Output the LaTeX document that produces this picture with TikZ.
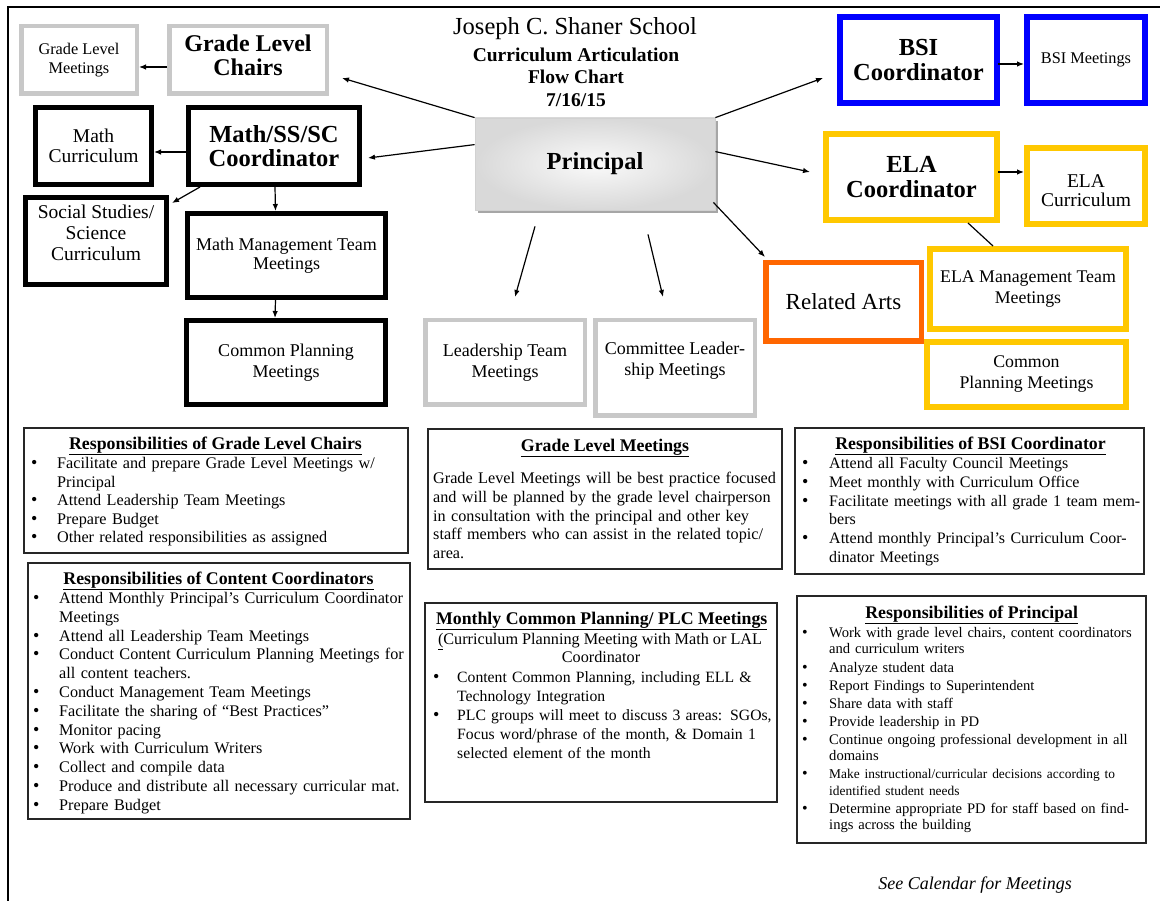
\documentclass[tikz,border=0pt]{standalone}
\usepackage{fontspec}
\setmainfont{Liberation Serif}
\usetikzlibrary{arrows.meta,shadows}
\definecolor{boxgray}{HTML}{C8C8C8}
\definecolor{bsiblue}{HTML}{0000FF}
\definecolor{elayel}{HTML}{FFC800}
\definecolor{raor}{HTML}{FF6600}
\newcommand\pal{\rmfamily}
\newcommand\tms{\rmfamily}
\newcommand\fsz[2]{\fontsize{#1}{#2}\selectfont}
\newcommand\bsz{\fsz{18}{0}}
\newcommand\bl[1]{\makebox[#1pt][l]{{\bsz\textbullet}}}
\newcommand\cl[1]{\hspace*{#1pt}}
\begin{document}
\begin{tikzpicture}[x=1pt,y=-1pt,
  box/.style={rectangle, draw, align=center, inner sep=0pt, font=\pal},
  gbox/.style={box, draw=boxgray, line width=4.5pt},
  kbox/.style={box, draw=black, line width=5pt},
  bbox/.style={box, draw=bsiblue, line width=6pt},
  ybox/.style={box, draw=elayel, line width=6pt},
  obox/.style={box, draw=raor, line width=5.5pt},
  lbl/.style={inner sep=0pt, align=center, font=\pal},
  principal/.style={rectangle, draw=black!18, line width=0.8pt, inner color=black!2, outer color=black!15,
     font=\pal\bfseries\fsz{24.5}{28}, drop shadow={shadow xshift=3pt, shadow yshift=-3pt, fill=black!35, opacity=1}},
  arr/.style={line width=1.2pt, -{Latex[length=7pt,width=5.5pt]}},
  plain/.style={line width=1.2pt},
  resp/.style={rectangle, draw=black!85, line width=1.6pt, inner sep=0pt},
  txt/.style={inner sep=0pt, align=left, anchor=base west, text width=#1},
  ttl/.style={inner sep=0pt, anchor=base, font=\tms\bfseries\fsz{17.8}{20}},
]
\useasboundingbox (0,0) rectangle (1160,901);
\fill[white] (0,0) rectangle (1160,901);
\draw[line width=2.5pt] (8,901) -- (8,7) -- (1160,7);

% title
\node[inner sep=0pt, font=\pal\fsz{24.5}{26}] (title1) at (575,29) {Joseph C. Shaner School};
\node[inner sep=0pt, font=\pal\bfseries\fsz{19.5}{22}] (title2) at (576,55) {Curriculum Articulation};
\node[inner sep=0pt, font=\pal\bfseries\fsz{19.5}{22}] (title3) at (576,77) {Flow Chart};
\node[inner sep=0pt, font=\pal\bfseries\fsz{19.5}{22}] (title4) at (576,100) {7/16/15};

% upper boxes
\node[gbox, minimum width=115.5pt, minimum height=67.5pt, font=\pal\fsz{16.3}{19}] (glm) at (79,60) {Grade Level\\Meetings};
\node[gbox, minimum width=157.5pt, minimum height=67.5pt] (glc) at (248,60) {};
\node[lbl, font=\pal\bfseries\fsz{24}{24}] (glct) at (248,55) {Grade Level\\Chairs};
\node[kbox, minimum width=116pt, minimum height=77pt, font=\pal\fsz{19.5}{20}] (mathc) at (93.5,146) {Math\\Curriculum};
\node[kbox, minimum width=171pt, minimum height=77pt, font=\pal\bfseries\fsz{24.5}{24}] (coord) at (274,146) {Math/SS/SC\\Coordinator};
\node[kbox, minimum width=141pt, minimum height=87pt] (socs) at (96,241) {};
\node[lbl, font=\pal\fsz{19.5}{21}] (socst) at (96,233) {Social Studies/\\Science\\Curriculum};
\node[kbox, minimum width=198pt, minimum height=84pt, font=\pal\fsz{18}{19.5}] (mmt) at (286.5,255.5) {Math Management Team\\Meetings};
\node[kbox, minimum width=199pt, minimum height=84pt, font=\pal\fsz{18}{21}] (cpl) at (286,362.5) {Common Planning\\Meetings};

\node[principal, minimum width=240pt, minimum height=92pt] (principal) at (595,164) {Principal};

\node[gbox, minimum width=159.5pt, minimum height=84.5pt, font=\pal\fsz{18}{21}] (ltm) at (505,362.5) {Leadership Team\\Meetings};
\node[gbox, minimum width=159.5pt, minimum height=95.5pt] (clm) at (675,368) {};
\node[lbl, font=\pal\fsz{18}{21}] (clmt) at (675,360.5) {Committee Leader-\\ship Meetings};
\node[obox, minimum width=155.5pt, minimum height=78.5pt, font=\pal\fsz{23}{24}] (ra) at (843.5,302) {Related Arts};

\node[bbox, minimum width=157pt, minimum height=86pt, font=\pal\bfseries\fsz{24.5}{25}] (bsic) at (918.5,60) {BSI\\Coordinator};
\node[bbox, minimum width=118pt, minimum height=86pt, font=\pal\fsz{16.3}{18}] (bsim) at (1086,60) {BSI Meetings};
\node[ybox, minimum width=171pt, minimum height=86pt, font=\pal\bfseries\fsz{24.5}{25}] (elac) at (911.5,177) {ELA\\Coordinator};
\node[ybox, minimum width=118pt, minimum height=76pt] (elacur) at (1086,186) {};
\node[lbl, font=\pal\fsz{19.5}{19}] (elacurt) at (1086,190.5) {ELA\\Curriculum};
\node[ybox, minimum width=196pt, minimum height=80pt, font=\pal\fsz{17.8}{21}] (elamt) at (1028,289) {ELA Management Team\\Meetings};
\node[ybox, minimum width=199pt, minimum height=65pt, font=\pal\fsz{17.8}{21}] (cpr) at (1026.5,374.5) {Common\\Planning Meetings};

% connectors
\draw[arr] ([shift={(0,7)}]glc.west) -- ([shift={(0,7)}]glm.east);
\draw[arr] ([shift={(0,6)}]coord.west) -- ([shift={(0,6)}]mathc.east);
\draw[arr] ([shift={(14,0)}]coord.south west) -- ([shift={(3,8)}]socs.north east);
\draw[arr] ([shift={(1,0)}]coord.south) -- ([shift={(-11,0)}]mmt.north);
\draw[arr] ([shift={(-11,0)}]mmt.south) -- ([shift={(-11,0)}]cpl.north);
\draw[arr] (principal.north west) -- ([shift={(13,18)}]glc.east);
\draw[arr] ([shift={(0,27)}]principal.north west) -- ([shift={(6,12)}]coord.east);
\draw[arr] ([shift={(-60,16)}]principal.south) -- ([shift={(10,-21)}]ltm.north);
\draw[arr] ([shift={(53,24)}]principal.south) -- ([shift={(-12,-21)}]clm.north);
\draw[arr] ([shift={(-2,-8)}]principal.south east) -- ([shift={(2,-3)}]ra.north west);
\draw[arr] (principal.north east) -- ([shift={(-14,18)}]bsic.west);
\draw[arr] ([shift={(0,34)}]principal.north east) -- ([shift={(-13,-5)}]elac.west);
\draw[arr] ([shift={(-2,4)}]bsic.east) -- ([shift={(0,4)}]bsim.west);
\draw[arr] ([shift={(-2,-5)}]elac.east) -- ([shift={(0,-14)}]elacur.west);
\draw[plain] ([shift={(-32,0)}]elac.south east) -- ([shift={(-35,0)}]elamt.north);

% bottom boxes
\node[resp, minimum width=384.5pt, minimum height=125.5pt] (rglc) at (216,490.5) {};
\node[ttl] (rglct) at (215.5,449) {\underline{Responsibilities of Grade Level Chairs}};
\node[txt=420pt, font=\tms\fsz{16.2}{18.5}] (rglcl) at (31,468.5) {%
\bl{26}Facilitate and prepare Grade Level Meetings w/\\
\cl{26}Principal\\
\bl{26}Attend Leadership Team Meetings\\
\bl{26}Prepare Budget\\
\bl{26}Other related responsibilities as assigned};

\node[resp, minimum width=382.5pt, minimum height=256.5pt] (rcc) at (219,691) {};
\node[ttl] (rcct) at (218.5,584) {\underline{Responsibilities of Content Coordinators}};
\node[txt=420pt, font=\tms\fsz{16.2}{18.8}] (rccl) at (33,603.5) {%
\bl{26}Attend Monthly Principal's Curriculum Coordinator\\
\cl{26}Meetings\\
\bl{26}Attend all Leadership Team Meetings\\
\bl{26}Conduct Content Curriculum Planning Meetings for\\
\cl{26}all content teachers.\\
\bl{26}Conduct Management Team Meetings\\
\bl{26}Facilitate the sharing of ``Best Practices''\\
\bl{26}Monitor pacing\\
\bl{26}Work with Curriculum Writers\\
\bl{26}Collect and compile data\\
\bl{26}Produce and distribute all necessary curricular mat.\\
\bl{26}Prepare Budget};

\node[resp, minimum width=354.5pt, minimum height=140.5pt] (rglm) at (605,499) {};
\node[ttl] (rglmt) at (605,451) {\underline{Grade Level Meetings}};
\node[txt=420pt, font=\tms\fsz{16.2}{18.8}] (rglml) at (433,483.5) {%
Grade Level Meetings will be best practice focused\\
and will be planned by the grade level chairperson\\
in consultation with the principal and other key\\
staff members who can assist in the related topic/\\
area.};

\node[resp, minimum width=352.5pt, minimum height=199.5pt] (rmcp) at (601,702.5) {};
\node[ttl] (rmcpt) at (601.7,624) {\underline{Monthly Common Planning/ PLC Meetings}};
\node[inner sep=0pt, anchor=base, font=\tms\fsz{16.2}{18}] (rmcp2) at (600,644.5) {\underline{(}Curriculum Planning Meeting with Math or LAL};
\node[inner sep=0pt, anchor=base, font=\tms\fsz{16.2}{18}] (rmcp3) at (601,662.5) {Coordinator};
\node[txt=420pt, font=\tms\fsz{15.7}{19}] (rmcpl) at (433,682.5) {%
\bl{24}Content Common Planning, including ELL \&\\
\cl{24}Technology Integration\\
\bl{24}PLC groups will meet to discuss 3 areas: SGOs,\\
\cl{24}Focus word/phrase of the month, \& Domain 1\\
\cl{24}selected element of the month};

\node[resp, minimum width=349.5pt, minimum height=146.5pt] (rbsi) at (969.5,501) {};
\node[ttl] (rbsit) at (970.5,449) {\underline{Responsibilities of BSI Coordinator}};
\node[txt=420pt, font=\tms\fsz{16}{18.8}] (rbsil) at (802,468.5) {%
\bl{27}Attend all Faculty Council Meetings\\
\bl{27}Meet monthly with Curriculum Office\\
\bl{27}Facilitate meetings with all grade 1 team mem-\\
\cl{27}bers\\
\bl{27}Attend monthly Principal's Curriculum Coor-\\
\cl{27}dinator Meetings};

\node[resp, minimum width=349.5pt, minimum height=247.5pt] (rpr) at (971.5,719.5) {};
\node[ttl] (rprt) at (971.7,618) {\underline{Responsibilities of Principal}};
\node[txt=420pt, font=\tms\fsz{14.6}{16.5}\renewcommand\bsz{\fsz{16}{0}}] (rprl) at (802,637) {%
\bl{27}Work with grade level chairs, content coordinators\\
\cl{27}and curriculum writers\\[2pt]
\bl{27}Analyze student data\\[1.5pt]
\bl{27}Report Findings to Superintendent\\[1.5pt]
\bl{27}Share data with staff\\[1.5pt]
\bl{27}Provide leadership in PD\\[1.5pt]
\bl{27}Continue ongoing professional development in all\\
\cl{27}domains\\[1.5pt]
\bl{27}{\fsz{13.4}{16.5}Make instructional/curricular decisions according to}\\
\cl{27}{\fsz{13.4}{16.5}identified student needs}\\[1.5pt]
\bl{27}Determine appropriate PD for staff based on find-\\
\cl{27}ings across the building};

\node[inner sep=0pt, font=\tms\itshape\fsz{18}{20}] (seecal) at (975,885) {See Calendar for Meetings};
\end{tikzpicture}
\end{document}
